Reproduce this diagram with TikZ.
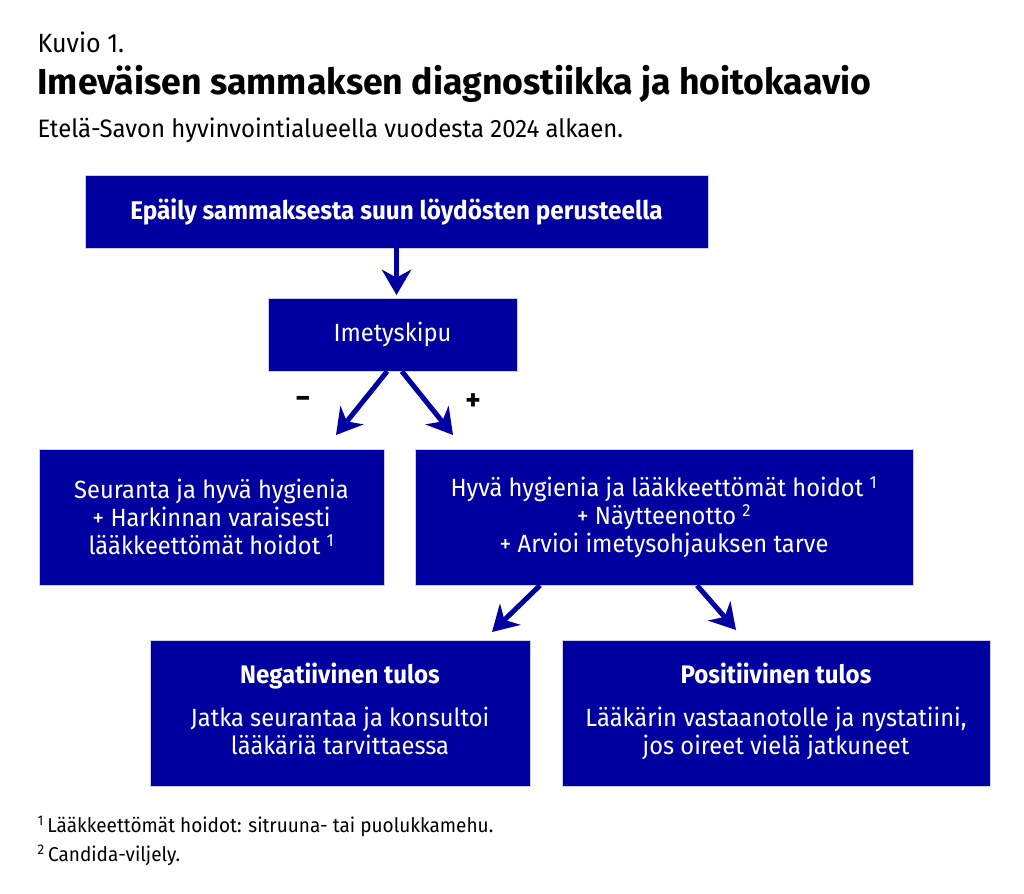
\documentclass[tikz,border=0pt]{standalone}
\usepackage{fontspec}
\setmainfont[FakeStretch=0.95]{Fira Sans}
\newfontfamily\otsikkofontti[FakeStretch=0.99]{Fira Sans}
\usetikzlibrary{arrows.meta}
\definecolor{kaaviosin}{RGB}{0,0,160}
\definecolor{reunasin}{RGB}{205,205,240}
\tikzset{every picture/.style={line width=0.75pt}}

\begin{document}
\begin{tikzpicture}[
            x=0.75pt,
            y=0.75pt,
            yscale=-1,
            xscale=1,
            every node/.style={text=black},
            line width=0.75pt,
            laatikko/.style={fill=kaaviosin, draw=reunasin, line width=0.5pt, text=white, align=center, inner sep=0pt, font=\fontsize{18.7}{21}\selectfont},
            nuoli/.style={draw=kaaviosin, line width=3.75pt, -{Stealth[length=19pt,width=22pt,inset=6pt]}}
        ]
            \useasboundingbox (0,0) rectangle (1024,893);

            \node [anchor=base west, inner sep=0pt, font=\fontsize{19.8}{22}\selectfont] (kuvio) at (37,52) {Kuvio 1.};
            \node [anchor=base west, inner sep=0pt, font=\otsikkofontti\fontsize{27}{30}\selectfont\bfseries] (otsikko) at (37,94) {Imeväisen sammaksen diagnostiikka ja hoitokaavio};
            \node [anchor=base west, inner sep=0pt, font=\fontsize{18.9}{22}\selectfont] (alaotsikko) at (37,137) {Etelä-Savon hyvinvointialueella vuodesta 2024 alkaen.};

            \node [laatikko, minimum width=467.25pt, minimum height=54.75pt, font=\fontsize{19.2}{22}\selectfont\bfseries] (epaily) at (396.5,211.5) {Epäily sammaksesta suun löydösten perusteella};
            \node [laatikko, minimum width=186.75pt, minimum height=54.75pt] (imetys) at (392.5,334.5) {Imetyskipu};
            \node [laatikko, minimum width=258.75pt, minimum height=102pt] (seuranta) at (211.5,517) {Seuranta ja hyvä hygienia\\+ Harkinnan varaisesti\\lääkkeettömät hoidot \textsuperscript{1}};
            \node [laatikko, minimum width=373.5pt, minimum height=102pt] (hygienia) at (664,517) {Hyvä hygienia ja lääkkeettömät hoidot \textsuperscript{1}\\+ Näytteenotto \textsuperscript{2}\\+ Arvioi imetysohjauksen tarve};
            \node [laatikko, minimum width=285pt, minimum height=109.5pt, text depth=6pt] (negatiivinen) at (340,713) {{\fontsize{19}{21}\selectfont\bfseries Negatiivinen tulos}\\[11pt]Jatka seurantaa ja konsultoi\\lääkäriä tarvittaessa};
            \node [laatikko, minimum width=321pt, minimum height=109.5pt, text depth=6pt] (positiivinen) at (776,713) {{\fontsize{19}{21}\selectfont\bfseries Positiivinen tulos}\\[11pt]Lääkärin vastaanotolle ja nystatiini,\\jos oireet vielä jatkuneet};

            \coordinate (miinuskarki) at (336,435);
            \coordinate (pluskarki) at (453,435);
            \coordinate (negkarki) at (492,632);
            \coordinate (poskarki) at (736,630);

            \draw [nuoli, shorten >=2pt] (epaily.south) -- (epaily.south |- imetys.north);
            \draw [nuoli] ([xshift=-4pt]imetys.south) -- (miinuskarki);
            \draw [nuoli] ([xshift=7pt]imetys.south) -- (pluskarki);
            \draw [nuoli] ([xshift=-93pt]hygienia.south) -- (negkarki);
            \draw [nuoli] ([xshift=24.75pt]hygienia.south) -- (poskarki);

            \node [font=\fontsize{23}{24}\selectfont\bfseries] (miinus) at (303,402) {−};
            \node [font=\fontsize{23}{24}\selectfont\bfseries] (plus) at (473,402) {+};

            \node [anchor=base west, inner sep=0pt, font=\fontsize{15}{18}\selectfont] (alaviite1) at (37,832) {\textsuperscript{1}\,Lääkkeettömät hoidot: sitruuna- tai puolukkamehu.};
            \node [anchor=base west, inner sep=0pt, font=\fontsize{15}{18}\selectfont] (alaviite2) at (37,861) {\textsuperscript{2}\,Candida-viljely.};

            % the \node/\draw positions are all in reference pixels
        \end{tikzpicture}
\end{document}
